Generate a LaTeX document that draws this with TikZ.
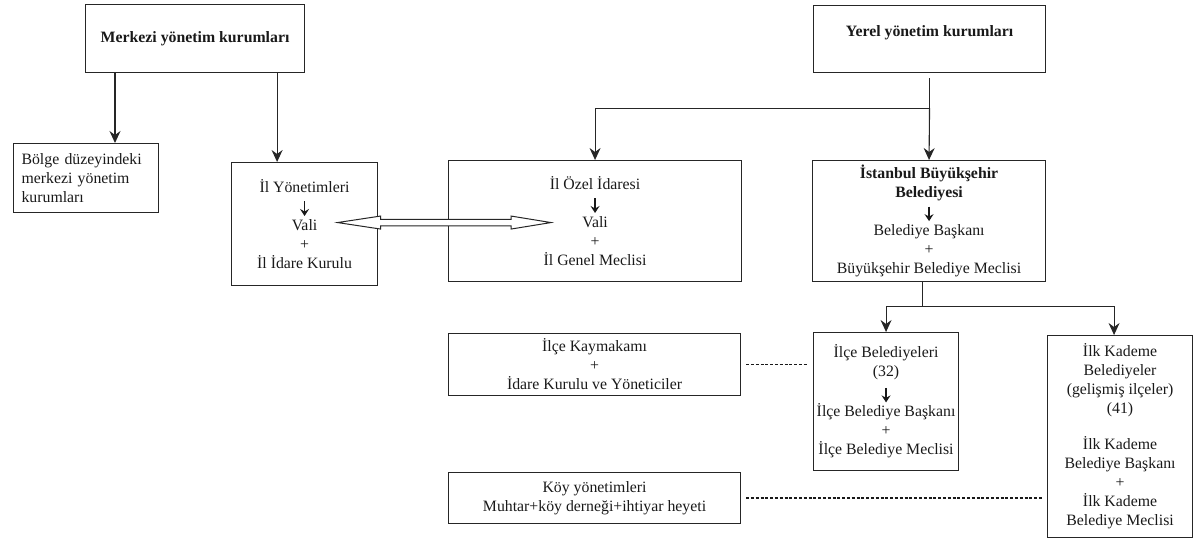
\documentclass[tikz,border=0pt]{standalone}
\usepackage{fontspec}
\setmainfont{Liberation Serif}
\usetikzlibrary{arrows.meta,calc}

% small arrow used inside the boxes
\newcommand{\smalldown}{\tikz[baseline=0pt]\draw[black!90,line width=1.3pt,-{Stealth[length=7pt,width=9pt,inset=2.5pt]}] (0pt,10pt) -- (0pt,-4.5pt);}

\begin{document}
\begin{tikzpicture}[x=1pt,y=-1pt,
    box/.style={draw=black!85, line width=1.1pt, anchor=north west, align=center,
        inner sep=2pt, text=black!90, font=\fontsize{15.8}{19}\selectfont},
    arr/.style={draw=black!85, line width=1.1pt, -{Stealth[length=12pt,width=11pt,inset=4pt]}},
    link/.style={draw=black!85, line width=1.1pt},
    dots/.style={draw=black!90, line width=1.8pt, dash pattern=on 3pt off 1.8pt,
        shorten <=5pt, shorten >=5pt},
    dbl/.style={draw=black!85, line width=1pt, fill=white, line join=miter}]

    \useasboundingbox (0,0) rectangle (1202,544);

    % Top boxes
    \node[box, minimum width=219pt, minimum height=68pt] (merkezi) at (85,4)
        {\textbf{Merkezi yönetim kurumları}};
    \node[box, minimum width=232pt, minimum height=67pt, text depth=16pt] (yerel) at (813,5)
        {\textbf{Yerel yönetim kurumları}};

    % Central level
    \node[box, minimum width=145pt, minimum height=69pt, align=left,
        text width=129pt, inner xsep=8pt] (bolge) at (13,143)
        {Bölge düzeyindeki\\merkezi yönetim\\kurumları};
    \node[box, minimum width=146pt, minimum height=123pt] (il) at (231,162)
        {İl Yönetimleri\\\smalldown\\Vali\\+\\İl İdare Kurulu};

    % Local level
    \node[box, minimum width=293pt, minimum height=121pt] (ozel) at (448,160)
        {İl Özel İdaresi\\\smalldown\\Vali\\+\\İl Genel Meclisi};
    \node[box, minimum width=233pt, minimum height=121pt] (ist) at (812,160)
        {\textbf{İstanbul Büyükşehir}\\\textbf{Belediyesi}\\\smalldown\\Belediye Başkanı\\+\\Büyükşehir Belediye Meclisi};

    % District level
    \node[box, minimum width=292pt, minimum height=62pt] (kaym) at (448,333)
        {İlçe Kaymakamı\\+\\İdare Kurulu ve Yöneticiler};
    \node[box, minimum width=292pt, minimum height=51pt] (koy) at (448,472)
        {Köy yönetimleri\\Muhtar+köy derneği+ihtiyar heyeti};
    \node[box, minimum width=145pt, minimum height=138pt] (ilce) at (813,332)
        {İlçe Belediyeleri\\(32)\\[2pt]\smalldown\\İlçe Belediye Başkanı\\+\\İlçe Belediye Meclisi};
    \node[box, minimum width=145pt, minimum height=202pt] (ilk) at (1047,335)
        {İlk Kademe\\Belediyeler\\(gelişmiş ilçeler)\\(41)\\[17pt]İlk Kademe\\Belediye Başkanı\\+\\İlk Kademe\\Belediye Meclisi};

    % Arrows from the central box
    \coordinate (m1) at ([xshift=30pt]merkezi.south west);
    \coordinate (m2) at ([xshift=-28pt]merkezi.south east);
    \draw[arr] (m1) -- (m1 |- bolge.north);
    \draw[arr] (m2) -- (m2 |- il.north);

    % Arrows from the local box
    \coordinate (yj) at ([yshift=-35pt]yerel.south);
    \draw[link, shorten <=5pt] (yerel.south) -- (yj);
    \draw[arr] (yj) -- (ist.north);
    \draw[arr] (yj) -| (ozel.north);

    % Branch below the metropolitan municipality
    \coordinate (is) at ([xshift=-7pt]ist.south);
    \coordinate (ij) at ([yshift=-24pt]is);
    \draw[link] (is) -- (ij);
    \draw[arr] (ij) -| (ilce.north);
    \draw[arr] (ij) -| ([xshift=-6pt]ilk.north);

    % Dotted links
    \draw[dots] (kaym.east) -- (kaym.east -| ilce.west);
    \draw[dots, shorten >=4pt] (koy.east) -- (koy.east -| ilk.west);

    % Double arrow between the two Vali
    \coordinate (va) at ([xshift=33pt,yshift=1.5pt]il.center);
    \coordinate (vc) at (va -| ozel.center);
    \coordinate (vb) at ([xshift=-44pt]vc);
    \draw[dbl] (va) -- ++(43,-6.5) -- ++(0,3.2) -- ($(vb)+(-40,-3.3)$) -- ++(0,-3.2)
        -- (vb) -- ++(-40,6.5) -- ++(0,-3.2) -- ($(va)+(43,3.3)$) -- ++(0,3.2) -- cycle;

\end{tikzpicture}
\end{document}
